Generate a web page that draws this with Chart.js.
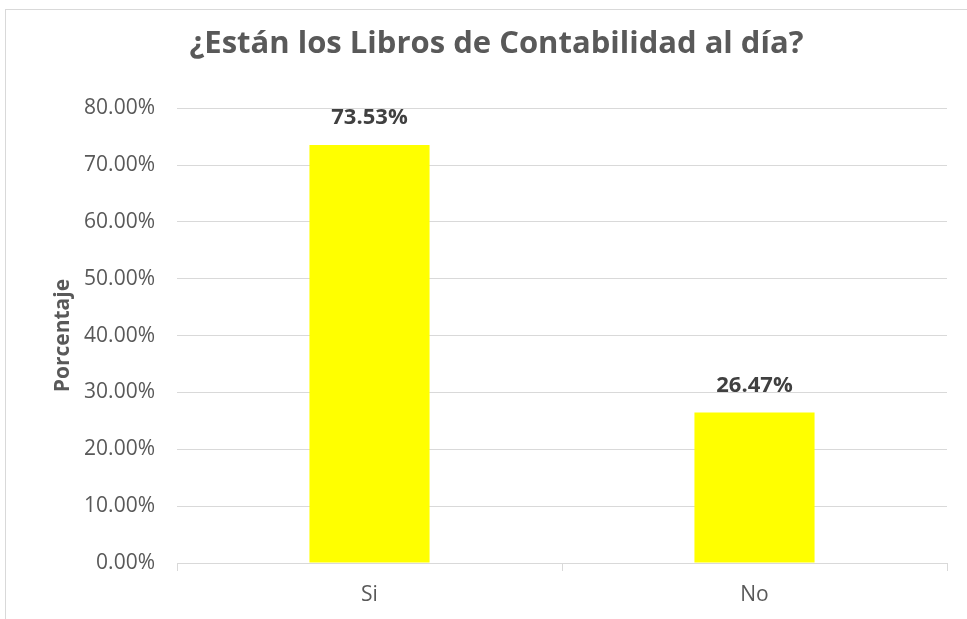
<!DOCTYPE html>
<html>
<head>
<meta charset="utf-8">
<script src="https://cdn.jsdelivr.net/npm/chart.js@4"></script>
<style>
  body { margin: 0; background: #ffffff; }
  #wrap { position: relative; width: 967px; height: 619px; overflow: hidden; }
  #frame { position: absolute; left: 5px; top: 9px; width: 980px; height: 640px; border: 1px solid #d9d9d9; pointer-events: none; }
</style>
</head>
<body>
<div id="wrap">
  <canvas id="grafico" width="967" height="619"></canvas>
  <div id="frame"></div>
</div>
<script>
const categorias = ['Si', 'No'];
const porcentajes = [0.7353, 0.2647];
const etiquetas = ['73.53%', '26.47%'];

const gris = '#595959';

const etiquetasBarras = {
    id: 'etiquetasBarras',
    afterDatasetsDraw(chart) {
        const c = chart.ctx;
        const meta = chart.getDatasetMeta(0);
        c.save();
        c.font = 'bold 22px "Open Sans"';
        c.fillStyle = '#404040';
        c.textAlign = 'center';
        c.textBaseline = 'middle';
        meta.data.forEach((bar, i) => {
            c.fillText(etiquetas[i], bar.x, bar.y - 27);
        });
        c.restore();
    }
};

new Chart(document.getElementById('grafico'), {
    type: 'bar',

    data: {
        labels: categorias,
        datasets: [{
            data: porcentajes,
            backgroundColor: '#ffff00',
            categoryPercentage: 1,
            barPercentage: 0.312
        }]
    },

    options: {
        responsive: false,
        animation: false,
        layout: {
            padding: { left: 46, right: 20, top: 0, bottom: 0 }
        },
        plugins: {
            legend: { display: false },
            tooltip: { enabled: false },
            title: {
                display: true,
                text: '¿Están los Libros de Contabilidad al día?',
                color: gris,
                font: { family: 'Open Sans', size: 31, weight: 'bold' },
                padding: { top: 26, bottom: 45 }
            }
        },
        scales: {
            y: {
                min: 0,
                max: 0.8,
                afterFit(scale) { scale.width = 131; },
                border: { display: false },
                grid: { color: '#d9d9d9', drawTicks: false },
                ticks: {
                    stepSize: 0.1,
                    padding: 22,
                    color: gris,
                    font: { family: 'Open Sans', size: 21 },
                    callback: v => (v * 100).toFixed(2) + '%'
                },
                title: {
                    display: true,
                    text: 'Porcentaje',
                    color: gris,
                    font: { family: 'Open Sans', size: 21, weight: 'bold' }
                }
            },
            x: {
                afterFit(scale) { scale.height = 56; },
                border: { color: '#d9d9d9' },
                grid: { offset: true, drawOnChartArea: false, tickLength: 8, color: '#d9d9d9' },
                ticks: {
                    padding: 11,
                    color: gris,
                    font: { family: 'Open Sans', size: 21 }
                }
            }
        }
    },

    plugins: [etiquetasBarras]
});
</script>
</body>
</html>
